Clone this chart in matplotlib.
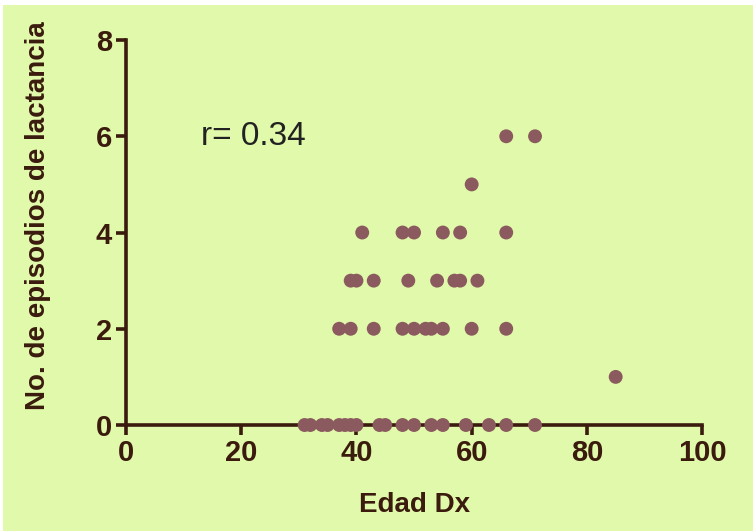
"""
lactancia_scatter.py
--------------------
Dispersion de episodios de lactancia contra edad al diagnostico.
"""

import matplotlib
matplotlib.use("Agg")
import matplotlib.pyplot as plt
from matplotlib.patches import Rectangle

# Edad Dx agrupada por numero de episodios de lactancia
edad_0 = [31, 32, 34, 35, 37, 38, 39, 40, 44, 45, 48, 50, 53, 55, 59, 63, 66, 71]
edad_1 = [85]
edad_2 = [37, 39, 43, 48, 50, 52, 53, 55, 60, 66]
edad_3 = [39, 40, 43, 49, 54, 57, 58, 61]
edad_4 = [41, 48, 50, 55, 58, 66]
edad_5 = [60]
edad_6 = [66, 71]

episodios = [0, 1, 2, 3, 4, 5, 6]
grupos = [edad_0, edad_1, edad_2, edad_3, edad_4, edad_5, edad_6]

x_ticks = [0, 20, 40, 60, 80, 100]
y_ticks = [0, 2, 4, 6, 8]
r_label = "r= 0.34"

bg = "#e1f9aa"
ink = "#3a1b0e"
dot = "#8a5a5e"

plt.rcParams['font.family'] = ['Liberation Sans', 'DejaVu Sans']

fig = plt.figure(figsize=(7.56, 5.31), dpi=100, facecolor="white")
fig.patches.append(Rectangle((0.004, 0.0), 0.992, 0.99, transform=fig.transFigure,
                             facecolor=bg, edgecolor="none", zorder=-1))
ax = fig.add_axes([0.1667, 0.1996, 0.762, 0.725])
ax.set_facecolor("none")

xs, ys = [], []
for n, edades in zip(episodios, grupos):
    xs += edades
    ys += [n] * len(edades)
ax.scatter(xs, ys, s=100, color=dot, edgecolors="none", clip_on=False, zorder=3)

ax.set_xlim(0, 100)
ax.set_ylim(0, 8)
ax.set_xticks(x_ticks)
ax.set_yticks(y_ticks)
for s in ["top", "right"]:
    ax.spines[s].set_visible(False)
for s in ["left", "bottom"]:
    ax.spines[s].set_color(ink)
    ax.spines[s].set_linewidth(2.6)
ax.tick_params(direction="out", length=7, width=2.6, color=ink, labelcolor=ink,
               labelsize=21, pad=3)
for lab in ax.get_xticklabels() + ax.get_yticklabels():
    lab.set_fontweight("bold")

ax.set_xlabel("Edad Dx", fontsize=20, fontweight="bold", color=ink, labelpad=18)
ax.set_ylabel("No. de episodios de lactancia", fontsize=20, fontweight="bold",
              color=ink)
ax.yaxis.set_label_coords(-0.13, 0.545)

ax.text(13, 6, r_label, fontsize=24, color="#222222", va="center", ha="left")

fig.savefig("out.png", dpi=100, facecolor=fig.get_facecolor())
